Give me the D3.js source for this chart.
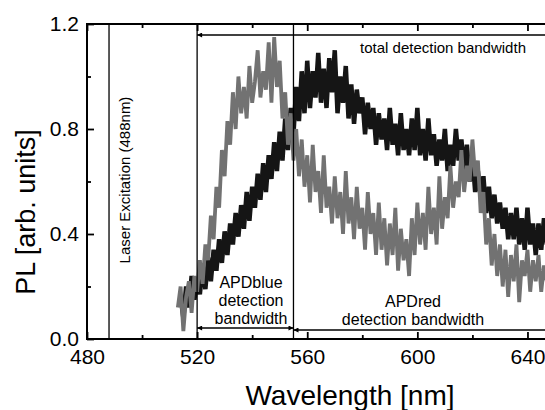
<!DOCTYPE html>
<html>
<head>
<meta charset="utf-8">
<script src="https://cdn.jsdelivr.net/npm/d3@7"></script>
<style>
  body { margin: 0; background: #fff; }
  text { font-family: "Liberation Sans", Arial, sans-serif; fill: #000; }
</style>
</head>
<body>
<script>
// wavelength ticks / y ticks
let xMajor = [480, 520, 560, 600, 640];
let xMinor = [500, 540, 580, 620];
let yMajor = [0.0, 0.4, 0.8, 1.2];
let yMinor = [0.2, 0.6, 1.0];

// gray trace, 513..647 nm, 1 nm step
let grayStart = 513;
let grayPL = [
  0.12, 0.20, 0.03, 0.16, 0.22, 0.10, 0.24, 0.18, 0.30, 0.21,
  0.36, 0.30, 0.47, 0.38, 0.58, 0.50, 0.72, 0.62, 0.83, 0.74,
  0.94, 0.80, 1.00, 0.86, 0.96, 0.84, 1.04, 0.90, 0.98, 1.10,
  0.92, 1.02, 0.95, 1.13, 0.90, 1.15, 0.96, 1.06, 0.84, 0.94,
  0.74, 0.86, 0.68, 0.80, 0.62, 0.76, 0.58, 0.70, 0.52, 0.74,
  0.56, 0.64, 0.48, 0.70, 0.50, 0.58, 0.44, 0.62, 0.46, 0.56,
  0.40, 0.64, 0.44, 0.54, 0.38, 0.58, 0.42, 0.50, 0.34, 0.56,
  0.40, 0.48, 0.32, 0.52, 0.34, 0.46, 0.28, 0.44, 0.32, 0.50,
  0.26, 0.42, 0.30, 0.38, 0.24, 0.46, 0.32, 0.52, 0.36, 0.48,
  0.34, 0.58, 0.40, 0.50, 0.36, 0.62, 0.42, 0.54, 0.46, 0.66,
  0.50, 0.60, 0.54, 0.72, 0.56, 0.66, 0.60, 0.76, 0.62, 0.68,
  0.48, 0.56, 0.36, 0.46, 0.28, 0.40, 0.24, 0.36, 0.20, 0.34,
  0.16, 0.32, 0.22, 0.36, 0.14, 0.30, 0.24, 0.34, 0.18, 0.30,
  0.22, 0.32, 0.18, 0.28, 0.22
];

// black trace, 514..647 nm
let blackStart = 514;
let blackPL = [
  0.16, 0.08, 0.20, 0.12, 0.24, 0.15, 0.22, 0.17, 0.28, 0.19,
  0.31, 0.22, 0.34, 0.26, 0.38, 0.29, 0.41, 0.32, 0.44, 0.36,
  0.48, 0.39, 0.51, 0.42, 0.56, 0.45, 0.58, 0.50, 0.63, 0.53,
  0.67, 0.56, 0.70, 0.61, 0.75, 0.64, 0.79, 0.68, 0.84, 0.72,
  0.88, 0.78, 0.96, 0.83, 1.02, 0.86, 1.06, 0.88, 1.02, 0.92,
  1.09, 0.90, 1.03, 0.88, 1.07, 0.94, 1.10, 0.86, 1.00, 0.90,
  1.04, 0.84, 0.97, 0.82, 0.95, 0.86, 0.92, 0.78, 0.90, 0.80,
  0.88, 0.74, 0.86, 0.76, 0.84, 0.72, 0.88, 0.74, 0.82, 0.70,
  0.86, 0.72, 0.80, 0.70, 0.84, 0.72, 0.88, 0.70, 0.80, 0.68,
  0.84, 0.70, 0.78, 0.66, 0.76, 0.68, 0.80, 0.64, 0.74, 0.66,
  0.80, 0.68, 0.76, 0.64, 0.74, 0.60, 0.70, 0.56, 0.64, 0.54,
  0.62, 0.48, 0.58, 0.46, 0.55, 0.44, 0.52, 0.42, 0.50, 0.38,
  0.48, 0.38, 0.50, 0.36, 0.46, 0.34, 0.50, 0.36, 0.44, 0.32,
  0.44, 0.34, 0.46, 0.36
];

// marker lines (nm)
let laserLine = 488;
let blueEdge = 520;
let splitEdge = 555;

let W = 545, H = 410;
let x = d3.scaleLinear().domain([480, 650]).range([87, 555]);
let y = d3.scaleLinear().domain([0, 1.2]).range([339, 24]);

let svg = d3.select('body').append('svg')
    .attr('width', W)
    .attr('height', H);

let defs = svg.append('defs');
defs.append('marker')
    .attr('id', 'arr')
    .attr('viewBox', '0 -5 10 10')
    .attr('refX', 10)
    .attr('refY', 0)
    .attr('markerWidth', 8)
    .attr('markerHeight', 5)
    .attr('markerUnits', 'userSpaceOnUse')
    .attr('orient', 'auto-start-reverse')
    .append('path')
    .attr('d', 'M0,-5L10,0L0,5Z')
    .attr('fill', '#000');

let plot = svg.append('g');

let line = d3.line()
    .x((d) => x(d.w))
    .y((d) => y(d.v));

let black = blackPL.map((v, i) => ({ w: blackStart + i, v: v }));
let gray = grayPL.map((v, i) => ({ w: grayStart + i, v: v }));

plot.append('path')
    .datum(black)
    .attr('d', line)
    .attr('fill', 'none')
    .attr('stroke', '#151515')
    .attr('stroke-width', 4.5);

plot.append('path')
    .datum(gray)
    .attr('d', line)
    .attr('fill', 'none')
    .attr('stroke', '#727272')
    .attr('stroke-width', 3.8);

// vertical marker lines
[laserLine, blueEdge, splitEdge].forEach((w) => {
    plot.append('line')
        .attr('x1', x(w)).attr('x2', x(w))
        .attr('y1', y(1.2)).attr('y2', y(0))
        .attr('stroke', '#000')
        .attr('stroke-width', 1.3);
});

// axes, ticks pointing inward
let axisG = svg.append('g');
axisG.append('g')
    .attr('transform', 'translate(0,' + y(0) + ')')
    .call(d3.axisBottom(x).tickValues(xMajor).tickSize(-7).tickPadding(10).tickFormat(d3.format('d')));
axisG.append('g')
    .attr('transform', 'translate(0,' + y(0) + ')')
    .call(d3.axisBottom(x).tickValues(xMinor).tickSize(-4).tickFormat(''));
axisG.append('g')
    .attr('transform', 'translate(0,' + y(1.2) + ')')
    .call(d3.axisTop(x).tickValues(xMajor).tickSize(-7).tickFormat(''));
axisG.append('g')
    .attr('transform', 'translate(0,' + y(1.2) + ')')
    .call(d3.axisTop(x).tickValues(xMinor).tickSize(-4).tickFormat(''));
axisG.append('g')
    .attr('transform', 'translate(' + x(480) + ',0)')
    .call(d3.axisLeft(y).tickValues(yMajor).tickSize(-7).tickPadding(8).tickFormat(d3.format('.1f')));
axisG.append('g')
    .attr('transform', 'translate(' + x(480) + ',0)')
    .call(d3.axisLeft(y).tickValues(yMinor).tickSize(-4).tickFormat(''));

axisG.selectAll('.domain').remove();
axisG.selectAll('.tick line').attr('stroke-width', 1.8);
axisG.selectAll('.tick text')
    .style('font-family', '"Liberation Sans", Arial, sans-serif')
    .style('font-size', '21px');

// frame
svg.append('rect')
    .attr('x', x(480)).attr('y', y(1.2))
    .attr('width', x(650) - x(480)).attr('height', y(0) - y(1.2))
    .attr('fill', 'none')
    .attr('stroke', '#000')
    .attr('stroke-width', 2);

// axis titles
svg.append('text')
    .attr('x', 350).attr('y', 405)
    .attr('text-anchor', 'middle')
    .style('font-size', '28px')
    .text('Wavelength [nm]');

svg.append('text')
    .attr('transform', 'translate(35,' + 212 + ') rotate(-90)')
    .attr('text-anchor', 'middle')
    .style('font-size', '27px')
    .text('PL [arb. units]');

// annotations
svg.append('text')
    .attr('transform', 'translate(130,180) rotate(-90)')
    .attr('text-anchor', 'middle')
    .style('font-size', '15px')
    .text('Laser Excitation (488nm)');

// total bandwidth arrow
svg.append('line')
    .attr('x1', x(blueEdge)).attr('x2', x(650))
    .attr('y1', 35).attr('y2', 35)
    .attr('stroke', '#000').attr('stroke-width', 1.5)
    .attr('marker-start', 'url(#arr)');
svg.append('text')
    .attr('x', 443).attr('y', 53)
    .attr('text-anchor', 'middle')
    .style('font-size', '15px')
    .text('total detection bandwidth');

// APDblue arrow
svg.append('line')
    .attr('x1', x(blueEdge)).attr('x2', x(splitEdge))
    .attr('y1', 328).attr('y2', 328)
    .attr('stroke', '#000').attr('stroke-width', 1.5)
    .attr('marker-start', 'url(#arr)')
    .attr('marker-end', 'url(#arr)');
let blueTxt = svg.append('text')
    .attr('text-anchor', 'middle')
    .style('font-size', '16px');
['APDblue', 'detection', 'bandwidth'].forEach((t, i) => {
    blueTxt.append('tspan').attr('x', 251).attr('y', 288 + i * 18).text(t);
});

// APDred arrow
svg.append('line')
    .attr('x1', x(splitEdge)).attr('x2', x(650))
    .attr('y1', 330).attr('y2', 330)
    .attr('stroke', '#000').attr('stroke-width', 1.5)
    .attr('marker-start', 'url(#arr)');
let redTxt = svg.append('text')
    .attr('text-anchor', 'middle')
    .style('font-size', '16px');
['APDred', 'detection bandwidth'].forEach((t, i) => {
    redTxt.append('tspan').attr('x', 413).attr('y', 307 + i * 18).text(t);
});
</script>
</body>
</html>
